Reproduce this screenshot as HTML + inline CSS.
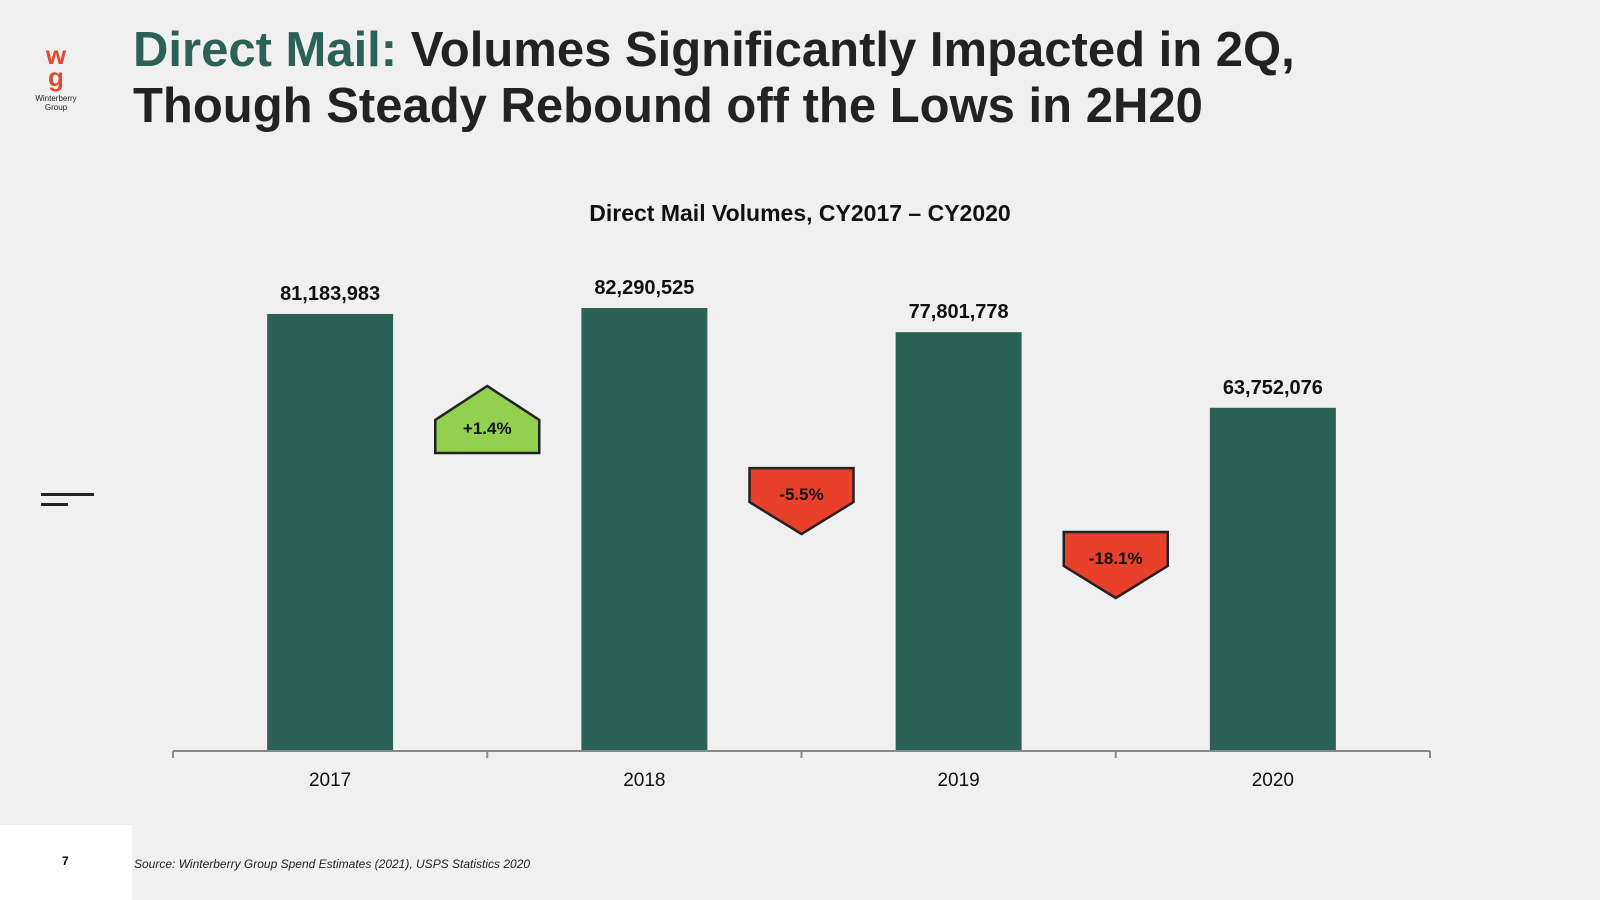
<!DOCTYPE html>
<html><head><meta charset="utf-8"><style>
body{margin:0;width:1600px;height:900px;background:#f0f0f0;font-family:"Liberation Sans",sans-serif;overflow:hidden;position:relative}
.t{position:absolute;left:133px;top:22px;font-size:49px;font-weight:bold;color:#222;line-height:56px;letter-spacing:0px}
.t span{color:#2c6158}
</style></head><body>
<div style="position:absolute;left:24px;top:44px;width:64px;text-align:center">
<div style="color:#e04a32;font-weight:bold;font-size:26px;line-height:22px">w<br>g</div>
<div style="font-size:8px;color:#222;line-height:9px;margin-top:6px">Winterberry<br>Group</div></div>
<div class="t"><span>Direct Mail:</span> Volumes Significantly Impacted in 2Q,<br>Though Steady Rebound off the Lows in 2H20</div>
<div style="position:absolute;left:41px;top:493px;width:53px;height:3px;background:#222"></div>
<div style="position:absolute;left:41px;top:503px;width:27px;height:3px;background:#222"></div>
<div style="position:absolute;left:0;top:825px;width:132px;height:75px;background:#fff"><div style="position:absolute;left:62px;top:29px;font-size:12px;font-weight:bold">7</div></div>
<div style="position:absolute;left:134px;top:857px;font-size:12px;font-style:italic;color:#222">Source: Winterberry Group Spend Estimates (2021), USPS Statistics 2020</div>
<svg id="c" width="1600" height="900" style="position:absolute;left:0;top:0"></svg>
<script>
const categories=["2017","2018","2019","2020"];
const values=[81183983,82290525,77801778,63752076];
const labels=["81,183,983","82,290,525","77,801,778","63,752,076"];
const changes=["+1.4%","-5.5%","-18.1%"];
const NS="http://www.w3.org/2000/svg";const svg=document.getElementById('c');
const x0=173,cw=314.25,base=751,k=443/82290525;
const xs=i=>x0+cw*i+cw/2, ys=v=>base-v*k;
function mk(t,a,txt){const e=document.createElementNS(NS,t);for(const n in a)e.setAttribute(n,a[n]);if(txt!=null)e.textContent=txt;svg.appendChild(e);return e;}
const tt=mk('text',{x:800,y:221,'text-anchor':'middle','font-size':23,'font-weight':'bold',fill:'#111'},'Direct Mail Volumes, CY2017 – CY2020');


categories.forEach((c,i)=>{
 const b=mk('rect',{x:xs(i)-63,y:ys(values[i]),width:126,height:base-ys(values[i]),fill:'#2c6158'});
 
 
 const l=mk('text',{x:xs(i),y:ys(values[i])-14,'text-anchor':'middle','font-size':20,'font-weight':'bold',fill:'#111'},labels[i]);
 
 
 const xl=mk('text',{x:xs(i),y:786,'text-anchor':'middle','font-size':19,fill:'#111'},c);
 
 
});
const ax=mk('line',{x1:x0,x2:x0+cw*4,y1:base,y2:base,stroke:'#888','stroke-width':2});


for(let i=0;i<=4;i++){const t=mk('line',{x1:x0+cw*i,x2:x0+cw*i,y1:base,y2:base+7,stroke:'#888','stroke-width':2});

}
changes.forEach((c,i)=>{
 const up=values[i+1]>=values[i];const cx=x0+cw*(i+1);
 const mid=(ys(values[i])+ys(values[i+1]))/2+(up?127:168+i*14);
 let pts;
 if(up)pts=[[cx-52,mid-18],[cx,mid-52],[cx+52,mid-18],[cx+52,mid+15],[cx-52,mid+15]];
 else pts=[[cx-52,mid-34],[cx+52,mid-34],[cx+52,mid],[cx,mid+32],[cx-52,mid]];
 const p=mk('polygon',{points:pts.map(q=>q.join(',')).join(' '),fill:up?'#92d050':'#e8402a',stroke:'#222','stroke-width':2.5});
 
 
 const t=mk('text',{x:cx,y:up?mid-4:mid-2,'text-anchor':'middle','font-size':17,'font-weight':'bold',fill:'#111'},c);
 
 
});
</script>
</body></html>
